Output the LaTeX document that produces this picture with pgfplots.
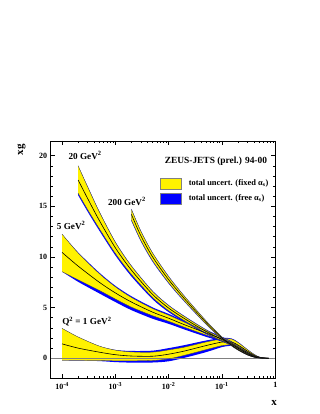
\documentclass[border=0pt]{standalone}
\usepackage{fontspec}
\setmainfont{Liberation Serif}
\usepackage{pgfplots}
\usepackage{pgfplotstable}
\pgfplotsset{compat=1.18}
\usepgfplotslibrary{fillbetween}

% xg for four Q^2 values: central, yellow band (fixed alpha_s), blue band (free alpha_s)
\pgfplotstableread{
x      c     lo     hi     blo    bhi
1e-4   1.42  -0.22  2.95   -0.22  2.95
2e-4   1.00  -0.22  2.10   -0.23  2.10
5e-4   0.60  -0.23  1.20   -0.28  1.20
1e-3   0.35  -0.25  0.80   -0.38  0.82
2e-3   0.22  -0.25  0.62   -0.43  0.72
5e-3   0.20  -0.22  0.60   -0.42  0.75
1e-2   0.40  -0.05  0.82   -0.30  1.00
2e-2   0.72  0.30   1.10   0.05   1.30
5e-2   1.25  0.85   1.60   0.60   1.75
0.1    1.60  1.25   1.90   1.10   2.00
0.15   1.60  1.32   1.90   1.22   1.96
0.2    1.30  1.08   1.55   1.02   1.60
0.3    0.70  0.55   0.85   0.52   0.88
0.4    0.30  0.22   0.38   0.20   0.40
0.5    0.10  0.07   0.13   0.06   0.14
0.6    0.03  0.02   0.04   0.02   0.04
0.75   0.00  0.00   0.00   0.00   0.00
}\qone

\pgfplotstableread{
x      c     lo     hi     blo    bhi
1e-4   10.45 8.55   12.25  8.55   12.25
2e-4   9.10  7.75   10.40  7.55   10.45
5e-4   7.50  6.70   8.35   6.40   8.45
1e-3   6.45  5.85   7.05   5.55   7.15
2e-3   5.55  5.05   6.00   4.75   6.12
5e-3   4.55  4.20   4.90   3.90   5.02
1e-2   3.95  3.65   4.25   3.40   4.38
2e-2   3.30  3.05   3.55   2.83   3.66
5e-2   2.50  2.30   2.70   2.12   2.80
0.1    1.90  1.75   2.05   1.65   2.12
0.15   1.50  1.38   1.62   1.32   1.68
0.2    1.10  1.00   1.20   0.96   1.24
0.3    0.55  0.48   0.62   0.46   0.64
0.4    0.22  0.18   0.26   0.17   0.27
0.5    0.07  0.05   0.09   0.05   0.09
0.6    0.02  0.01   0.03   0.01   0.03
0.75   0.00  0.00   0.00   0.00   0.00
}\qfive

\pgfplotstableread{
x      c     lo     hi     blo    bhi
2e-4   17.60 16.30  19.00  16.10  19.00
3e-4   15.80 14.70  16.95  14.50  17.00
5e-4   13.60 12.80  14.45  12.60  14.50
1e-3   10.90 10.35  11.45  10.15  11.50
2e-3   8.70  8.28   9.10   8.08   9.15
5e-3   6.30  6.00   6.60   5.82   6.65
1e-2   4.95  4.70   5.20   4.55   5.25
2e-2   3.90  3.70   4.10   3.57   4.15
5e-2   2.65  2.50   2.80   2.40   2.85
0.1    1.85  1.72   1.98   1.66   2.02
0.15   1.40  1.30   1.50   1.26   1.53
0.2    1.00  0.92   1.08   0.90   1.10
0.3    0.45  0.40   0.50   0.39   0.51
0.4    0.17  0.14   0.20   0.14   0.20
0.5    0.05  0.04   0.06   0.04   0.06
0.6    0.015 0.01   0.02   0.01   0.02
0.75   0.00  0.00   0.00   0.00   0.00
}\qtwenty

\pgfplotstableread{
x      c     lo     hi     blo    bhi
2e-3   14.20 13.65  14.70  13.55  14.75
3e-3   12.10 11.65  12.55  11.55  12.60
5e-3   10.00 9.62   10.38  9.52   10.42
1e-2   7.75  7.45   8.05   7.37   8.10
2e-2   5.85  5.62   6.08   5.55   6.12
5e-2   3.55  3.40   3.70   3.35   3.73
0.1    2.00  1.90   2.10   1.86   2.12
0.15   1.30  1.23   1.37   1.21   1.39
0.2    0.85  0.80   0.90   0.79   0.91
0.3    0.35  0.32   0.38   0.31   0.39
0.4    0.12  0.10   0.14   0.10   0.14
0.5    0.035 0.03   0.04   0.03   0.04
0.6    0.01  0.008  0.012  0.008  0.012
0.75   0.00  0.00   0.00   0.00   0.00
}\qtwohundred

\newcommand{\band}[2]{%
  \addplot[draw=none, smooth, name path=bh#2] table[x=x,y=bhi]{#1};
  \addplot[draw=none, smooth, name path=bl#2] table[x=x,y=blo]{#1};
  \addplot[fill=blue, draw=none] fill between[of=bh#2 and bl#2];
  \addplot[draw=none, smooth, name path=yh#2] table[x=x,y=hi]{#1};
  \addplot[draw=none, smooth, name path=yl#2] table[x=x,y=lo]{#1};
  \addplot[fill=yellow, draw=none] fill between[of=yh#2 and yl#2];
  \addplot[black!75, line width=0.3pt, smooth] table[x=x,y=hi]{#1};
  \addplot[black!75, line width=0.3pt, smooth] table[x=x,y=lo]{#1};
  \addplot[black, line width=0.6pt, smooth] table[x=x,y=c]{#1};
}

\begin{document}
\begin{tikzpicture}
\begin{axis}[
    at={(50.7pt,36pt)}, anchor=south west,
    scale only axis,
    width=224.6pt, height=237pt,
    xmode=log,
    xmin=6.12e-5, xmax=1,
    ymin=-1.95, ymax=21.45,
    xtick={1e-4,1e-3,1e-2,1e-1,1},
    xticklabels={10\textsuperscript{-4},10\textsuperscript{-3},10\textsuperscript{-2},10\textsuperscript{-1},1},
    ytick={0,5,10,15,20},
    minor y tick num=4,
    major tick length=4pt, minor tick length=2pt,
    tick style={black, line width=0.5pt},
    axis line style={black, line width=0.7pt},
    /pgf/number format/assume math mode=true,
    ticklabel style={font=\fontsize{8}{9}\selectfont\bfseries},
    xticklabel style={yshift=-1pt},
    clip=true,
]
\addplot[gray, line width=0.5pt] coordinates {(6.12e-5,0) (1,0)};

\band{\qone}{a}
\band{\qfive}{b}
\band{\qtwenty}{c}
\band{\qtwohundred}{d}

% labels
\node[font=\fontsize{9.2}{11}\selectfont\bfseries] at (axis cs:2.7e-4,20.0) {20 GeV\textsuperscript{2}};
\node[font=\fontsize{9.2}{11}\selectfont\bfseries] at (axis cs:1.65e-3,15.46) {200 GeV\textsuperscript{2}};
\node[font=\fontsize{9.2}{11}\selectfont\bfseries] at (axis cs:1.48e-4,13.09) {5 GeV\textsuperscript{2}};
\node[font=\fontsize{9.2}{11}\selectfont\bfseries] at (axis cs:2.92e-4,3.61) {Q\textsuperscript{2} = 1 GeV\textsuperscript{2}};

% legend
\node[font=\fontsize{9.4}{11}\selectfont\bfseries] at (axis cs:0.077,19.41) {ZEUS-JETS (prel.) 94-00};
\filldraw[fill=yellow, draw=black!50, line width=0.3pt] (axis cs:7.06e-3,16.7) rectangle (axis cs:0.0168,17.8);
\filldraw[fill=blue, draw=black!50, line width=0.3pt] (axis cs:7.06e-3,15.23) rectangle (axis cs:0.0168,16.29);
\node[anchor=west, font=\fontsize{8.4}{10}\selectfont\bfseries] at (axis cs:0.0205,17.25) {total uncert. (fixed α\textsubscript{s})};
\node[anchor=west, font=\fontsize{8.4}{10}\selectfont\bfseries] at (axis cs:0.0205,15.76) {total uncert. (free α\textsubscript{s})};
\end{axis}
\node[rotate=90, font=\fontsize{11}{13}\selectfont\bfseries] at (21.5pt,264pt) {xg};
\node[font=\fontsize{11}{13}\selectfont\bfseries] at (274pt,11pt) {x};
\pgfresetboundingbox
\path[use as bounding box] (0,0) rectangle (320pt,414pt);
\end{tikzpicture}
\end{document}
